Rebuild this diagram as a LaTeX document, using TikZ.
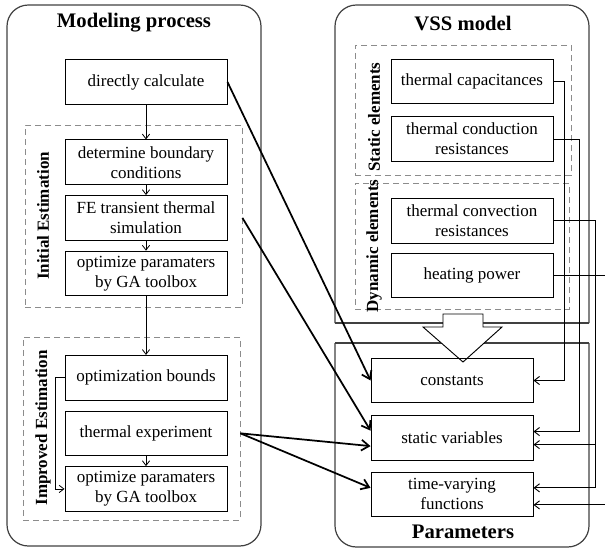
\documentclass[tikz,border=0pt]{standalone}
\usepackage{fontspec}
\setmainfont{Liberation Serif}
\usetikzlibrary{positioning,arrows.meta}

\begin{document}
\begin{tikzpicture}[
  x=0.75pt, y=-0.75pt,
  font=\fontsize{12.75}{15}\selectfont,
  node distance=7.5pt,
  stepbox/.style={draw,line width=0.7pt,minimum width=121.5pt,minimum height=33.5pt,align=center,inner sep=1pt},
  groupbox/.style={draw=black!45,dash pattern=on 4.5pt off 3pt,line width=0.6pt,inner sep=0pt},
  outerbox/.style={draw=black!75,line width=0.9pt},
  paneltitle/.style={font=\fontsize{15.5}{18}\selectfont\bfseries},
  sidelabel/.style={rotate=90,font=\fontsize{12.75}{15}\selectfont\bfseries},
  flow/.style={-{Straight Barb[angle=75:4.5pt]},line width=0.6pt},
  feed/.style={-{Straight Barb[angle=75:5pt]},line width=0.7pt},
  link/.style={-{Straight Barb[angle=70:7pt]},line width=1.3pt}
]
\useasboundingbox (0,0) rectangle (605,549);

% outer frames
\draw[outerbox,rounded corners=16pt] (7,5) rectangle (261,546);
\draw[outerbox,rounded corners=16pt] (335,323) -- (335,5) -- (589,5) -- (589,323);
\draw[outerbox] (335,323) -- (589,323);
\draw[outerbox,rounded corners=16pt] (335,343) -- (335,547) -- (589,547) -- (589,343);
\draw[outerbox] (335,343) -- (589,343);

\node[paneltitle] (modtitle) at (134,23) {Modeling process};
\node[paneltitle] (vsstitle) at (463,23) {VSS model};
\node[paneltitle] (partitle) at (463,532) {Parameters};

% dashed groups
\node[groupbox,minimum width=162.75pt,minimum height=136.5pt] (init) at (133.5,216) {};
\node[groupbox,minimum width=162.75pt,minimum height=137.25pt] (improv) at (131.5,428.5) {};
\node[groupbox,minimum width=162pt,minimum height=97.5pt] (static) at (463,110) {};
\node[groupbox,minimum width=160.5pt,minimum height=94.5pt] (dynamic) at (462,246) {};

\node[sidelabel] (initlabel) at (43,216) {Initial Estimation};
\node[sidelabel] (improvlabel) at (43,428) {Improved Estimation};
\node[sidelabel] (staticlabel) at (374,117) {Static elements};
\node[sidelabel] (dynlabel) at (374,246) {Dynamic elements};

% modeling steps
\node[stepbox] (calc) at (146,82) {directly calculate};
\node[stepbox,below=26pt of calc] (bound) {determine boundary\\conditions};
\node[stepbox,below=of bound] (fesim) {FE transient thermal\\simulation};
\node[stepbox,below=of fesim] (gaone) {optimize paramaters\\by GA toolbox};
\node[stepbox,below=44pt of gaone] (optbound) {optimization bounds};
\node[stepbox,below=of optbound] (experim) {thermal experiment};
\node[stepbox,below=of experim] (gatwo) {optimize paramaters\\by GA toolbox};

% model elements
\node[stepbox] (capac) at (472,81.5) {thermal capacitances};
\node[stepbox,below=9pt of capac] (conduct) {thermal conduction\\resistances};
\node[stepbox,below=27pt of conduct] (convect) {thermal convection\\resistances};
\node[stepbox,below=6.75pt of convect] (power) {heating power};

% big arrow
\draw[line width=0.7pt,fill=white] (443,314) -- (483,314) -- (483,327) -- (502,327)
  -- (463,362) -- (423,327) -- (443,327) -- cycle;

% parameters
\node[stepbox] (const) at (452,380.5) {constants};
\node[stepbox,below=9pt of const] (statvar) {static variables};
\node[stepbox,below=8pt of statvar] (timevar) {time-varying\\functions};

% process arrows
\draw[flow] (calc) -- (bound);
\draw[flow] (bound) -- (fesim);
\draw[flow] (fesim) -- (gaone);
\draw[flow] (gaone) -- (optbound);
\draw[flow] (experim) -- (gatwo);
\draw[flow] (optbound.west) -- ++(-9,0) |- (gatwo.west);

% where the parameters come from
\draw[link] (calc.east) -- (const.west);
\draw[link] (fesim.east -| init.east) -- ([yshift=5.6pt]statvar.west);
\draw[link] (experim.east -| improv.east) -- ([yshift=-6pt]statvar.west);
\draw[link] (experim.east -| improv.east) -- ([yshift=4.9pt]timevar.west);

% element feeds
\coordinate (convdrop) at ([xshift=31.5pt]convect.east);
\draw[feed] (capac.east) -- ++(11,0) |- (const.east);
\draw[feed] (conduct.east) -- ++(26,0) |- ([yshift=4.9pt]statvar.east);
\draw[feed] (convect.east) -- (convdrop) |- ([yshift=-4.9pt]statvar.east);
\draw[feed] (convdrop) |- ([yshift=4.9pt]timevar.east);
\draw[feed] (power.east) -- ++(70,0) |- ([yshift=-7.9pt]timevar.east);

\end{tikzpicture}
\end{document}
